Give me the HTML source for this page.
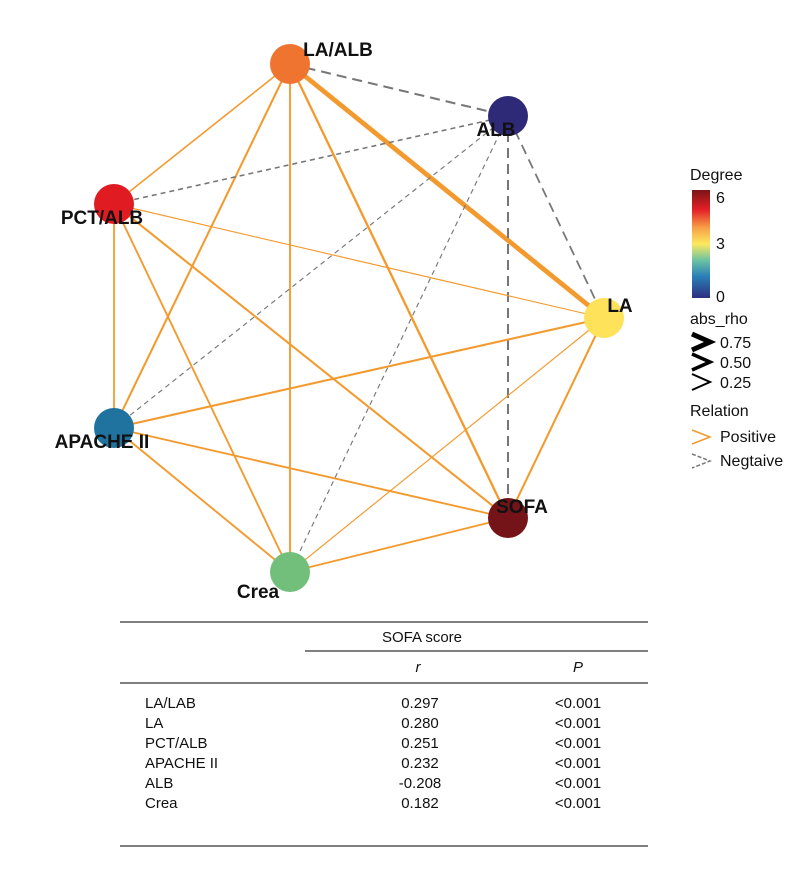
<!DOCTYPE html>
<html><head><meta charset="utf-8">
<style>
body{margin:0;background:#fff;width:800px;height:880px;overflow:hidden}
svg{display:block}
.lbl{font-family:"Liberation Sans",Arial,sans-serif;font-weight:bold;font-size:19px;fill:#111}
.lg{font-family:"Liberation Sans Narrow","Liberation Sans",sans-serif;font-size:16px;fill:#111}
.tb{font-family:"Liberation Sans Narrow","Liberation Sans",sans-serif;font-size:15px;fill:#111}
</style></head><body>
<svg id="chart" width="800" height="880">
<defs>
<linearGradient id="grad" x1="0" y1="1" x2="0" y2="0">
<stop offset="0" stop-color="#2c2e7e"/><stop offset="0.2" stop-color="#2a7fb8"/><stop offset="0.35" stop-color="#6cc3a2"/>
<stop offset="0.5" stop-color="#fde95e"/><stop offset="0.65" stop-color="#f7a048"/><stop offset="0.82" stop-color="#e31f26"/><stop offset="1" stop-color="#7a1416"/>
</linearGradient>
</defs>
<g id="edges"></g>
<g id="nodes"></g>
<g>
<text class="lg" x="690" y="180">Degree</text>
<rect x="692" y="190" width="18" height="108" fill="url(#grad)"/>
<text class="lg" x="716" y="203">6</text>
<text class="lg" x="716" y="249">3</text>
<text class="lg" x="716" y="302">0</text>
<text class="lg" x="690" y="324">abs_rho</text>
<path d="M692,334 L710,342 L692,350" stroke="#000" stroke-width="5" fill="none"/>
<path d="M692,354 L710,362 L692,370" stroke="#000" stroke-width="3.5" fill="none"/>
<path d="M692,374 L710,382 L692,390" stroke="#000" stroke-width="2" fill="none"/>
<text class="lg" x="720" y="348">0.75</text>
<text class="lg" x="720" y="368">0.50</text>
<text class="lg" x="720" y="388">0.25</text>
<text class="lg" x="690" y="416">Relation</text>
<path d="M692,430 L710,437 L692,444" stroke="#f39a2e" stroke-width="1.5" fill="none"/>
<path d="M692,454 L710,461 L692,468" stroke="#777" stroke-width="1.5" stroke-dasharray="4,2" fill="none"/>
<text class="lg" x="720" y="442">Positive</text>
<text class="lg" x="720" y="466">Negtaive</text>
</g>
<g>
<line x1="120" y1="622" x2="648" y2="622" stroke="#000" stroke-width="1"/>
<line x1="305" y1="651" x2="648" y2="651" stroke="#000" stroke-width="1"/>
<line x1="120" y1="683" x2="648" y2="683" stroke="#000" stroke-width="1"/>
<line x1="120" y1="846" x2="648" y2="846" stroke="#000" stroke-width="1"/>
<text class="tb" x="422" y="642" text-anchor="middle">SOFA score</text>
<text class="tb" x="418" y="672" text-anchor="middle" font-style="italic">r</text>
<text class="tb" x="578" y="672" text-anchor="middle" font-style="italic">P</text>
<g id="rows"></g>
</g>
</svg>
<script>
const nodeNames=["LA/ALB","ALB","LA","SOFA","Crea","APACHE II","PCT/ALB"];
const nodeDegree=[6,6,6,6,6,6,6];
const nodeColors=["#ef7430","#2e2a78","#fde25a","#741418","#72bf7c","#1f739e","#e01b22"];
const nodeX=[290,508,604,508,290,114,114];
const nodeY=[64,116,318,518,572,428,204];
const edgeFrom=[0,0,0,0,0,0,1,1,1,1,1,2,2,2,2,3,3,4,5,6,6];
const edgeTo  =[1,2,3,4,5,6,2,3,4,5,6,3,4,5,6,4,5,5,6,3,4];
const edgeRho =[-0.25,0.55,0.28,0.23,0.25,0.2,-0.22,-0.25,-0.15,-0.15,-0.2,0.25,0.15,0.25,0.15,0.23,0.23,0.23,0.22,0.25,0.23];
const rowNames=["LA/LAB","LA","PCT/ALB","APACHE II","ALB","Crea"];
const rowR=["0.297","0.280","0.251","0.232","-0.208","0.182"];
const rowP=["<0.001","<0.001","<0.001","<0.001","<0.001","<0.001"];
const NS="http://www.w3.org/2000/svg";
const eg=document.getElementById('edges'),ng=document.getElementById('nodes'),rg=document.getElementById('rows');
edgeFrom.forEach((a,i)=>{const b=edgeTo[i],r=edgeRho[i];const l=document.createElementNS(NS,'line');
l.setAttribute('x1',nodeX[a]);l.setAttribute('y1',nodeY[a]);l.setAttribute('x2',nodeX[b]);l.setAttribute('y2',nodeY[b]);
const w=Math.abs(r)*9-0.2;l.setAttribute('stroke-width',Math.max(1,w));
if(r<0){l.setAttribute('stroke','#777');l.setAttribute('stroke-dasharray',Math.abs(r)>0.21?'10,6':'5,4');}else l.setAttribute('stroke','#f39a2e');


eg.appendChild(l);});
const lblOff=[[48,-8],[-12,20],[16,-6],[14,-5],[-32,26],[-12,20],[-12,20]];
nodeNames.forEach((n,i)=>{const c=document.createElementNS(NS,'circle');c.setAttribute('cx',nodeX[i]);c.setAttribute('cy',nodeY[i]);c.setAttribute('r',20);c.setAttribute('fill',nodeColors[i]);


ng.appendChild(c);
const t=document.createElementNS(NS,'text');t.setAttribute('class','lbl');t.setAttribute('text-anchor','middle');t.setAttribute('x',nodeX[i]+lblOff[i][0]);t.setAttribute('y',nodeY[i]+lblOff[i][1]);t.textContent=n;


ng.appendChild(t);});
rowNames.forEach((n,i)=>{const y=708+i*20;[[n,145,'start'],[rowR[i],420,'middle'],[rowP[i],578,'middle']].forEach((d,j)=>{const t=document.createElementNS(NS,'text');t.setAttribute('class','tb');t.setAttribute('x',d[1]);t.setAttribute('y',y);t.setAttribute('text-anchor',d[2]);t.textContent=d[0];


rg.appendChild(t);});});
</script>
</body></html>
